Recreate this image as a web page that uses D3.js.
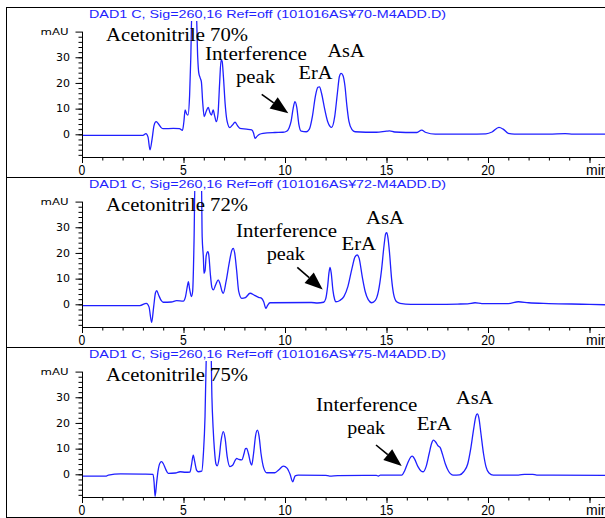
<!DOCTYPE html>
<html><head><meta charset="utf-8">
<script src="https://cdn.jsdelivr.net/npm/d3@7"></script>
<style>html,body{margin:0;padding:0;background:#fff;}svg{display:block;}</style>
</head><body>
<script>
// ---------------- DATA ----------------
const panelTitles = [
  "DAD1 C, Sig=260,16 Ref=off (101016AS¥70-M4ADD.D)",
  "DAD1 C, Sig=260,16 Ref=off (101016AS¥72-M4ADD.D)",
  "DAD1 C, Sig=260,16 Ref=off (101016AS¥75-M4ADD.D)"
];
const conditionLabels = ["Acetonitrile 70%", "Acetonitrile 72%", "Acetonitrile 75%"];
const peakNames = ["Interference", "peak", "ErA", "AsA"];

const xMajorTicks = [0, 5, 10, 15, 20];
const xTickLabels = ["0", "5", "10", "15", "20"];
const xUnitLabel = "min";
const yMajorTicks = [0, 10, 20, 30];
const yTickLabels = ["0", "10", "20", "30"];
const yUnitLabel = "mAU";

// Trace 70 %
const time70 = [0,3.0,3.15,3.25,3.35,3.45,3.55,3.65,3.75,3.9,4.0,4.5,4.8,4.95,5.02,5.08,5.15,5.22,5.3,5.36,5.42,5.62,5.7,5.75,5.82,5.88,5.95,6.02,6.12,6.22,6.3,6.38,6.46,6.54,6.62,6.7,6.78,6.85,6.9,6.97,7.05,7.15,7.28,7.4,7.54,7.65,7.78,8.1,8.36,8.45,8.52,8.62,8.75,8.92,9.5,9.9,10.08,10.2,10.3,10.4,10.49,10.58,10.68,10.8,11.05,11.2,11.35,11.5,11.62,11.7,11.8,11.95,12.1,12.3,12.45,12.58,12.68,12.76,12.85,12.95,13.05,13.15,13.3,13.45,14.5,15.0,15.15,15.4,16.5,16.73,16.95,17.4,18.0,19.0,19.9,20.2,20.54,20.75,21.0,21.3,23.0,23.8,24.2,25.9];
const value70 = [-0.4,-0.4,0.3,-1,-6.1,-2,3.5,4.9,4.2,2.6,2.2,2.3,2.2,1.5,5,9.5,8.0,7.5,15,30,50,50,30,24,22,20.5,12,6.9,9,10.5,8.5,7.5,9.5,7,4.9,8,20,28.9,28.5,22,12,5,2.6,3.5,4.7,3.5,2.3,2.0,1.7,0.5,-1.6,-0.8,0,0.4,0.7,0.8,1.2,2.5,5,10,12.7,10.5,4,1.2,1.0,2,7,15,18.3,18.5,16,10,5,2.7,7,16,22.5,23.7,23,19,11,5,1.8,1.0,0.8,1.2,1.3,0.9,0.7,1.6,0.7,0.1,0.1,0.1,0.2,0.9,2.7,2.0,0.4,0.1,0.1,0.3,0.1,0.1];

// Trace 72 %
const time72 = [0,2.85,3.17,3.3,3.43,3.53,3.62,3.68,3.78,3.9,4.0,4.4,4.66,4.99,5.1,5.2,5.24,5.3,5.39,5.45,5.52,5.57,5.88,5.92,5.98,6.01,6.06,6.12,6.2,6.25,6.32,6.4,6.47,6.58,6.71,6.8,6.9,6.96,7.1,7.25,7.38,7.45,7.52,7.62,7.72,7.87,8.05,8.28,8.5,8.7,8.85,8.95,9.06,9.15,9.26,11.3,11.6,11.9,12.0,12.1,12.17,12.22,12.28,12.36,12.45,12.51,12.7,12.9,13.1,13.3,13.45,13.56,13.65,13.8,13.95,14.1,14.27,14.45,14.6,14.75,14.88,14.96,15.01,15.07,15.15,15.25,15.35,15.5,15.67,16.2,17.5,18.5,19.0,19.36,19.7,21.0,21.5,22.0,23.0,25.0,25.9];
const value72 = [-0.5,-0.5,0.4,-1,-7.0,-1,4.5,5.3,3.5,1.5,0.8,0.9,1.4,1.2,3,7.5,8.8,6,3.0,5,25,50,50,26.3,18,12.1,13,19,20.5,19,12,6.5,5.6,7.5,9.5,8,5,4.3,9,16,21,21.8,20,13,5,2.3,2.6,4.3,3.5,2.7,2.3,1,-1.6,-0.3,0.6,0.7,0.5,0.8,2,7,12.5,14.4,12,5.5,1.8,1.0,1.5,3,7,14,18.5,19.2,18,11,5,1.8,0.6,1.5,5,13,23,27.5,27.9,26,20,10,4,1,0.4,0,0,0.1,0.2,0.6,0.3,0.3,1.0,0.6,0.3,0,-0.2];

// Trace 75 %
const time75 = [0,1.2,1.3,1.9,3.0,3.5,3.55,3.6,3.68,3.75,3.85,3.92,4.0,4.12,4.25,4.6,4.83,5.1,5.32,5.4,5.48,5.55,5.65,5.73,5.9,5.98,6.06,6.12,6.15,6.35,6.4,6.46,6.52,6.6,6.66,6.75,6.85,6.96,7.05,7.15,7.29,7.42,7.55,7.62,7.72,7.87,7.98,8.05,8.11,8.2,8.3,8.36,8.45,8.55,8.64,8.72,8.82,8.95,9.1,9.5,9.7,9.92,10.1,10.25,10.38,10.5,10.65,12.0,12.2,12.6,14.5,14.6,14.7,15.75,15.9,16.05,16.2,16.27,16.38,16.55,16.7,16.81,16.95,17.1,17.22,17.31,17.42,17.55,17.64,17.75,17.9,18.05,18.29,18.6,18.8,19.0,19.15,19.3,19.4,19.47,19.55,19.65,19.78,19.9,20.05,20.26,21.5,21.8,22.2,22.4,25.9];
const value75 = [-0.7,-0.7,-0.3,0.2,0.1,0,-3,-8.6,-3,1.5,4.5,4.9,4.2,2,0.4,0.5,1.0,0.8,0.9,4,7.5,5,1.5,1.0,1.2,8,22.4,45,50,50,30,17.9,10,4,3.3,6,13,16.6,14,7,3.0,3.5,5.5,6.2,5.8,5.6,8,10,10.1,8,4.5,3.6,8,15,17.2,15,8,2.5,0.6,0.6,1.8,3.2,2.4,0,-2.9,-0.6,-0.3,-0.4,-0.7,-0.5,-0.4,-0.7,-0.3,-0.3,1.5,4.5,6.8,7.1,6,3,1.3,1.0,3,8,12,13.3,12.6,11,10.5,8,4,1.3,-0.3,-0.2,1,4,10,18,22.5,23.5,22,16,8,3,0.5,-0.3,-0.3,0,0,-0.3,-0.4];

const traces = [
  {t: time70, v: value70},
  {t: time72, v: value72},
  {t: time75, v: value75}
];

// ---------------- LAYOUT ----------------
const W = 605, H = 518;
const panelTops = [7, 177, 347];
const panelH = 170;
const xLeft = 82;
const pxPerMin = 20.3;
const xMax = (W + 2 - xLeft) / pxPerMin;

// annotation placements per panel (relative to panelTop): [x, baseline, width]
const annot = [
  { cond:[106,34,142], inter:[205,53,102], peak:[236,76.3,39], era:[298.5,72,34], asa:[327.5,50.3,37], arrow:[261.7,87.3,288.3,106.3] },
  { cond:[106,34,142], inter:[236,59.5,101], peak:[266.7,83,38.3], era:[341.5,72.7,34.5], asa:[366,46.7,38], arrow:[297.3,90.3,322.7,112.5] },
  { cond:[106,34,142], inter:[316,63.7,101.3], peak:[347.3,87,37.7], era:[416.7,83,35], asa:[456,57,37.3], arrow:[376,98,401.7,119] }
];

const blue = "#1f1fff";
const svg = d3.select("body").append("svg").attr("width", W).attr("height", H);

const x = d3.scaleLinear().domain([0, xMax]).range([xLeft, W + 2]);

panelTops.forEach((top, i) => {
  const g = svg.append("g");
  // panel frame
  g.append("rect").attr("x", 6.5).attr("y", top + 0.5).attr("width", W + 10).attr("height", panelH)
    .attr("fill", "none").attr("stroke", "#000").attr("stroke-width", 1);

  const axisY = top + 150;
  const y = d3.scaleLinear().domain([-8.84, 40]).range([axisY, top + 24.6]);

  // title
  g.append("text").attr("x", 89).attr("y", top + 10.8).text(panelTitles[i])
    .attr("font-family", "'Liberation Sans', Arial, sans-serif").attr("font-size", 10.8)
    .attr("fill", blue).attr("textLength", 357).attr("lengthAdjust", "spacingAndGlyphs");

  // trace
  const clipId = "clip" + i;
  svg.append("clipPath").attr("id", clipId).append("rect")
    .attr("x", xLeft).attr("y", top + 14).attr("width", W).attr("height", axisY - top - 14);
  const pts = traces[i].t.map((t, k) => [t, traces[i].v[k]]);
  g.append("path").datum(pts).attr("clip-path", `url(#${clipId})`)
    .attr("d", d3.line().x(d => x(d[0])).y(d => y(d[1])).curve(d3.curveMonotoneX))
    .attr("fill", "none").attr("stroke", blue).attr("stroke-width", 1.3);

  // x axis
  const xAxis = d3.axisBottom(x).tickValues(d3.range(0, 26, 1)).tickSize(3.5).tickFormat("");
  const gx = g.append("g").attr("transform", `translate(0,${axisY})`).call(xAxis);
  gx.select(".domain").remove();
  gx.selectAll("line").attr("stroke", "#000");
  const xMaj = d3.axisBottom(x).tickValues(xMajorTicks.concat([25])).tickSize(6).tickFormat("");
  const gx2 = g.append("g").attr("transform", `translate(0,${axisY})`).call(xMaj);
  gx2.select(".domain").remove();
  gx2.selectAll("line").attr("stroke", "#000");
  g.append("line").attr("x1", xLeft).attr("x2", W + 2).attr("y1", axisY + 0.5).attr("y2", axisY + 0.5)
    .attr("stroke", "#000");
  xMajorTicks.forEach((t, k) => {
    const lab = xTickLabels[k];
    g.append("text").attr("x", x(t)).attr("y", top + 167.5).attr("text-anchor", "middle")
      .attr("font-family", "'Liberation Sans', Arial, sans-serif").attr("font-size", 14)
      .attr("textLength", lab.length * 6.8).attr("lengthAdjust", "spacingAndGlyphs").text(lab);
  });
  g.append("text").attr("x", 586).attr("y", top + 167.5)
    .attr("font-family", "'Liberation Sans', Arial, sans-serif").attr("font-size", 14).text(xUnitLabel);

  // y axis
  const yMinor = d3.axisLeft(y).tickValues(d3.range(-8, 40, 2)).tickSize(3.5).tickFormat("");
  const gy = g.append("g").attr("transform", `translate(${xLeft},0)`).call(yMinor);
  gy.select(".domain").remove();
  gy.selectAll("line").attr("stroke", "#000");
  const yMaj = d3.axisLeft(y).tickValues(yMajorTicks.concat([40])).tickSize(6.5).tickFormat("");
  const gy2 = g.append("g").attr("transform", `translate(${xLeft},0)`).call(yMaj);
  gy2.select(".domain").remove();
  gy2.selectAll("line").attr("stroke", "#000");
  g.append("line").attr("x1", xLeft + 0.5).attr("x2", xLeft + 0.5).attr("y1", y(40)).attr("y2", axisY)
    .attr("stroke", "#000");
  yMajorTicks.forEach((v, k) => {
    const lab = yTickLabels[k];
    g.append("text").attr("x", 70).attr("y", y(v) + 3.6).attr("text-anchor", "end")
      .attr("font-family", "'DejaVu Sans', sans-serif").attr("font-size", 10)
      .attr("textLength", lab.length * 7).attr("lengthAdjust", "spacingAndGlyphs").text(lab);
  });
  g.append("text").attr("x", 68.5).attr("y", y(40) + 3.4).attr("text-anchor", "end")
    .attr("font-family", "'DejaVu Sans', sans-serif").attr("font-size", 9)
    .attr("textLength", 28).attr("lengthAdjust", "spacingAndGlyphs").text(yUnitLabel);

  // annotations
  const a = annot[i];
  const serif = "'Liberation Serif', 'Times New Roman', serif";
  const addT = (txt, p) => g.append("text").attr("x", p[0]).attr("y", top + p[1])
    .attr("font-family", serif).attr("font-size", 18.5).attr("fill", "#000")
    .attr("textLength", p[2]).attr("lengthAdjust", "spacingAndGlyphs").text(txt);
  addT(conditionLabels[i], a.cond);
  addT(peakNames[0], a.inter);
  addT(peakNames[1], a.peak);
  addT(peakNames[2], a.era);
  addT(peakNames[3], a.asa);

  // arrow
  const [x1, y1r, x2, y2r] = a.arrow;
  const y1 = top + y1r, y2 = top + y2r;
  const ang = Math.atan2(y2 - y1, x2 - x1);
  const hl = 18, hw = 7;
  const bx = x2 - hl * Math.cos(ang), by = y2 - hl * Math.sin(ang);
  g.append("line").attr("x1", x1).attr("y1", y1).attr("x2", bx).attr("y2", by)
    .attr("stroke", "#000").attr("stroke-width", 1.6);
  g.append("polygon").attr("points", [
    [x2, y2],
    [bx + hw * Math.sin(ang), by - hw * Math.cos(ang)],
    [bx - hw * Math.sin(ang), by + hw * Math.cos(ang)]
  ].map(p => p.join(",")).join(" ")).attr("fill", "#000");
});
</script>
</body></html>
